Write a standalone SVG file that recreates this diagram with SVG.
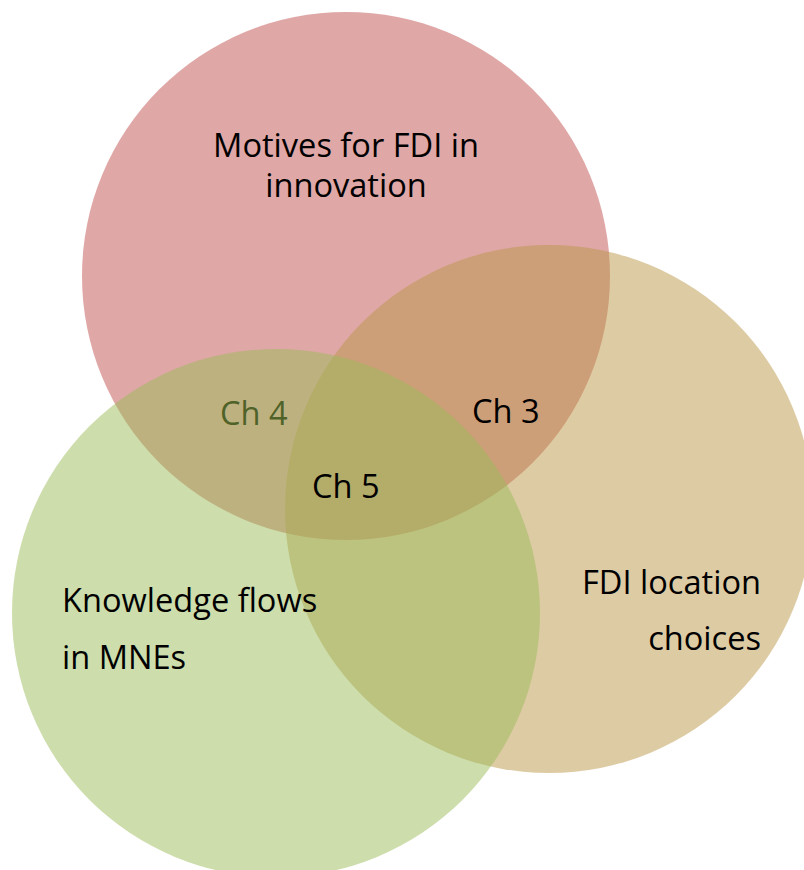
<svg xmlns="http://www.w3.org/2000/svg" width="804" height="870" viewBox="0 0 804 870">
  <style>
    .set { fill-opacity: 0.5; stroke: none; }
    .lbl { font-family: "Open Sans", "Liberation Sans", sans-serif; font-size: 32.6px; fill: #000; }
    .ch4 { fill: #4F6228; }
  </style>
  <rect width="804" height="870" fill="#fff"/>
  <g id="motives">
    <circle class="set" cx="346" cy="276" r="264" fill="#C0504D"/>
  </g>
  <g id="location">
    <circle class="set" cx="549" cy="509" r="264" fill="#BB9749"/>
  </g>
  <g id="knowledge">
    <circle class="set" cx="276" cy="613" r="264" fill="#9BBB59"/>
  </g>
  <g id="labels">
    <text class="lbl" text-anchor="middle"><tspan x="346" y="157">Motives for FDI in</tspan><tspan x="346" y="197">innovation</tspan></text>
    <text class="lbl"><tspan x="62" y="612">Knowledge flows</tspan><tspan x="62" y="669">in MNEs</tspan></text>
    <text class="lbl" text-anchor="end"><tspan x="761" y="594">FDI location</tspan><tspan x="761" y="650">choices</tspan></text>
    <text class="lbl ch4" x="220" y="425">Ch 4</text>
    <text class="lbl" x="472" y="423">Ch 3</text>
    <text class="lbl" x="312" y="498">Ch 5</text>
  </g>
</svg>
